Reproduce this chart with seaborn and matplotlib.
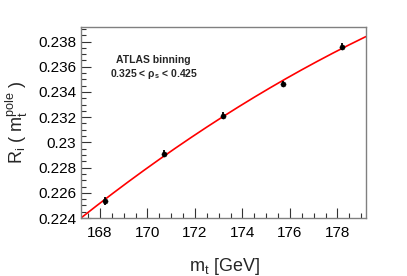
import numpy as np
import matplotlib
matplotlib.use('Agg')
import matplotlib.pyplot as plt
from matplotlib.ticker import MultipleLocator, FuncFormatter
import seaborn as sns
import pandas as pd

# данные
top_mass = [168.2, 170.7, 173.2, 175.7, 178.2]
r_value = [0.22537, 0.22910, 0.23213, 0.23465, 0.23758]
r_error = [0.00030, 0.00028, 0.00028, 0.00022, 0.00028]

sns.set_style('ticks')
plt.rcParams['font.family'] = ['Liberation Sans', 'DejaVu Sans']
plt.rcParams['mathtext.fontset'] = 'custom'
plt.rcParams['mathtext.rm'] = 'Liberation Sans'
plt.rcParams['mathtext.it'] = 'Liberation Sans:italic'
plt.rcParams['mathtext.bf'] = 'Liberation Sans:bold'

df = pd.DataFrame({'mt': top_mass, 'R': r_value, 'err': r_error})

fig = plt.figure(figsize=(4.07, 2.76), dpi=100)
ax = fig.add_axes([0.199, 0.21, 0.70, 0.692])

# фит квадратичной функцией
coef = np.polyfit(df['mt'], df['R'], 2)
x_fit = np.linspace(167.2, 179.2, 200)
fit_df = pd.DataFrame({'mt': x_fit, 'R': np.polyval(coef, x_fit)})
sns.lineplot(data=fit_df, x='mt', y='R', color='red', linewidth=1.2, ax=ax)

ax.errorbar(df['mt'], df['R'], yerr=df['err'], fmt='none', ecolor='black', elinewidth=1.3, capsize=0)
sns.scatterplot(data=df, x='mt', y='R', color='black', s=14, edgecolor='black', ax=ax, zorder=5)

ax.set_xlim(167.2, 179.2)
ax.set_ylim(0.224, 0.23915)
ax.xaxis.set_major_locator(MultipleLocator(2))
ax.xaxis.set_minor_locator(MultipleLocator(0.5))
ax.yaxis.set_major_locator(MultipleLocator(0.002))
ax.yaxis.set_minor_locator(MultipleLocator(0.0005))
ax.yaxis.set_major_formatter(FuncFormatter(lambda v, p: f'{v:g}'))

ax.tick_params(which='both', direction='in', colors='#333333', labelcolor='black',
               labelsize=11, top=False, right=False, width=0.8)
ax.tick_params(which='major', length=7)
ax.tick_params(which='minor', length=3.5)
ax.tick_params(axis='x', pad=6)
for s in ax.spines.values():
    s.set_color('#808080')
    s.set_linewidth(1.0)

ax.set_xlabel(r'$\mathregular{m_t}$ [GeV]', fontsize=13)
ax.set_ylabel(r'$\mathregular{R_i\ (\ m_t^{pole}\ )}$', fontsize=13, labelpad=6)
ax.xaxis.set_label_coords(0.505, -0.20)

ax.text(0.255, 0.83, 'ATLAS binning', transform=ax.transAxes, ha='center', va='center',
        fontsize=7.5, fontweight='bold')
ax.text(0.255, 0.755, r'0.325 < $\mathbf{\rho_s}$ < 0.425', transform=ax.transAxes, ha='center',
        va='center', fontsize=7.5, fontweight='bold')

fig.savefig('out.png', dpi=100)
